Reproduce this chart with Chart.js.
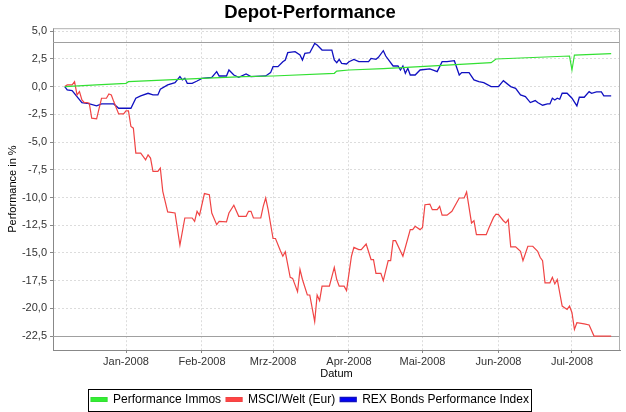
<!DOCTYPE html>
<html>
<head>
<meta charset="utf-8">
<script src="https://cdn.jsdelivr.net/npm/chart.js@4.4.0/dist/chart.umd.min.js"></script>
<style>
  html, body { margin: 0; padding: 0; background: #fff; }
  #wrap { width: 626px; height: 412px; }
</style>
</head>
<body>
<div id="wrap"><canvas id="chart" width="626" height="412"></canvas></div>
<script>
// x values are days since 1 Jan 2008
const monthStarts = [0, 31, 60, 91, 121, 152, 182];
const monthLabels = ["Jan-2008", "Feb-2008", "Mrz-2008", "Apr-2008", "Mai-2008", "Jun-2008", "Jul-2008"];
const markerValues = [4.0, -22.5];

const immosDays = [-25, -12, 0, 1, 31, 48, 60, 85, 86, 91, 105, 120, 149, 151, 181, 182, 183, 198];
const immosVals = [0, 0.15, 0.3, 0.45, 0.75, 0.9, 0.96, 1.2, 1.4, 1.5, 1.62, 1.8, 2.16, 2.49, 2.76, 1.5, 2.85, 2.97];

const msciDays = [-25, -24, -22, -21, -20, -19, -18, -17, -16, -15, -14, -12, -10, -8, -7, -6, -5, -3, -1, 0,
    1, 2, 3, 4, 6, 8, 9, 10, 11, 13, 14, 15, 17, 20, 22, 24, 27, 28, 29, 30,
    32, 34, 35, 37, 38, 41, 42, 44, 46, 49, 50, 51, 52, 55, 56, 57, 58, 60, 61, 63,
    64, 65, 67, 68, 70, 71, 72, 74, 75, 77, 78, 79, 80, 83, 85, 86, 87, 89, 90, 92,
    93, 95, 96, 98, 100, 101, 102, 104, 105, 107, 108, 109, 110, 113, 116, 117, 118, 120, 121, 122,
    124, 125, 127, 128, 129, 131, 133, 136, 138, 139, 141, 142, 143, 147, 148, 150, 151, 152, 154, 155,
    156, 157, 159, 161, 162, 164, 166, 168, 169, 170, 171, 173, 174, 175, 176, 178, 180, 181, 182, 183,
    184, 187, 189, 191, 198];
const msciVals = [0, 0.15, 0.15, 0.45, -0.75, -0.45, -1.2, -1.44, -1.44, -1.5, -2.85, -2.9, -1.05, -1.05, -0.66, -0.75, -1.35, -2.46, -2.46, -2.19,
    -2.19, -3.6, -3.75, -6.0, -6.0, -6.6, -6.15, -6.45, -7.65, -7.65, -7.35, -9.45, -11.3, -11.4, -14.3, -11.85, -11.85, -12.15, -11.25, -11.6,
    -9.65, -9.75, -11.4, -12.45, -12.15, -12.2, -11.4, -10.7, -11.7, -11.7, -11.25, -11.25, -11.85, -11.85, -10.8, -10.05, -11.1, -13.7, -13.7, -14.8,
    -15.3, -14.9, -17.2, -17.3, -18.5, -16.5, -17.4, -18.8, -18.8, -21.2, -18.8, -19.3, -18.0, -18.0, -16.3, -17.4, -18.0, -18.0, -18.4, -15.3,
    -14.5, -14.7, -14.7, -14.2, -15.6, -15.6, -16.85, -16.85, -17.5, -15.7, -15.7, -13.9, -13.9, -15.3, -12.9, -12.9, -12.6, -12.9, -12.7, -10.65,
    -10.6, -11.1, -11.1, -10.8, -11.6, -11.6, -11.25, -10.05, -10.05, -9.5, -12.3, -12.1, -13.35, -13.35, -12.8, -11.8, -11.5, -11.55, -12.1, -12.3,
    -12.0, -14.45, -14.45, -14.85, -15.7, -14.4, -14.4, -14.85, -15.4, -15.7, -17.7, -17.7, -17.2, -17.8, -17.4, -19.8, -20.1, -19.8, -20.4, -21.9,
    -21.3, -21.4, -21.5, -22.5, -22.5];

const rexDays = [-25, -24, -22, -18, -16, -12, -10, -5, -3, 2, 4, 6, 9, 11, 13, 14, 17, 20, 22, 23,
    24, 25, 27, 29, 31, 35, 37, 38, 41, 42, 44, 46, 49, 51, 57, 59, 60, 62, 64, 65,
    66, 69, 71, 72, 73, 75, 77, 78, 80, 84, 85, 86, 87, 88, 90, 91, 93, 95, 99, 100,
    102, 103, 105, 106, 109, 111, 112, 113, 114, 115, 116, 118, 120, 124, 127, 129, 131, 134, 136, 137,
    140, 142, 144, 146, 149, 152, 154, 157, 159, 161, 163, 165, 167, 168, 170, 172, 173, 174, 175, 176,
    177, 178, 180, 182, 184, 185, 187, 189, 190, 192, 194, 195, 198];
const rexVals = [0, -0.3, -0.36, -1.44, -1.5, -1.74, -1.56, -1.56, -1.95, -1.95, -1.05, -0.84, -0.6, -0.75, -0.75, -0.24, 0.15, 0.36, 0.9, 0.6,
    0.75, 0.3, 0.3, 0.51, 0.75, 0.84, 1.35, 0.96, 0.96, 1.5, 1.05, 0.84, 1.14, 0.9, 0.96, 1.26, 1.8, 1.8, 2.25, 2.4,
    3.06, 3.15, 2.85, 2.4, 3.0, 3.06, 3.9, 3.75, 3.3, 3.3, 2.4, 2.16, 2.46, 2.1, 2.04, 2.25, 2.46, 2.25, 2.25, 2.55,
    2.46, 2.64, 3.24, 2.76, 1.86, 1.86, 1.5, 1.86, 1.2, 1.65, 1.05, 1.05, 1.5, 1.6, 1.35, 2.25, 2.25, 2.34, 1.05, 1.26,
    1.26, 0.6, 0.45, 0.36, 0, 0, 0.54, 0, -0.15, -0.75, -0.9, -1.44, -1.26, -1.44, -1.68, -1.56, -1.56, -1.05, -1.2, -1.05,
    -1.14, -0.6, -0.6, -1.05, -1.74, -0.96, -0.96, -0.45, -0.6, -0.48, -0.48, -0.84, -0.84];

function toPoints(days, vals) {
    return days.map((d, i) => ({ x: d, y: vals[i] }));
}

// draws the marker lines and the plot outline
const plotExtras = {
    id: "plotExtras",
    beforeDatasetsDraw(chart) {
        const { ctx, chartArea: a, scales } = chart;
        ctx.save();
        ctx.strokeStyle = "#a0a0a0";
        ctx.lineWidth = 1;
        markerValues.forEach(v => {
            const y = Math.round(scales.y.getPixelForValue(v)) + 0.5;
            ctx.beginPath();
            ctx.moveTo(a.left, y);
            ctx.lineTo(a.right, y);
            ctx.stroke();
        });
        ctx.strokeStyle = "#b0b0b0";
        ctx.beginPath();
        ctx.moveTo(a.left, a.top + 0.5);
        ctx.lineTo(a.right - 0.5, a.top + 0.5);
        ctx.lineTo(a.right - 0.5, a.bottom);
        ctx.stroke();
        ctx.restore();
    },
    afterDraw(chart) {
        // border round the legend
        const boxes = chart.legend.legendHitBoxes;
        if (!boxes || !boxes.length) return;
        const ctx = chart.ctx;
        let l = Infinity, r = -Infinity, t = Infinity, b = -Infinity;
        boxes.forEach(h => {
            l = Math.min(l, h.left); r = Math.max(r, h.left + h.width);
            t = Math.min(t, h.top); b = Math.max(b, h.top + h.height);
        });
        const cy = (t + b) / 2;
        ctx.save();
        ctx.strokeStyle = "#000";
        ctx.lineWidth = 1;
        ctx.strokeRect(Math.round(l) - 2.5, Math.round(cy) - 10.5, Math.round(r - l) + 5, 22);
        ctx.restore();
    }
};

const font = "'Liberation Sans', Arial, sans-serif";

new Chart(document.getElementById("chart"), {
    type: "line",
    data: {
        datasets: [
            {
                label: "Performance Immos",
                data: toPoints(immosDays, immosVals),
                borderColor: "#33e033",
                backgroundColor: "#33ee33",
                borderWidth: 1.2
            },
            {
                label: "MSCI/Welt (Eur)",
                data: toPoints(msciDays, msciVals),
                borderColor: "#f04444",
                backgroundColor: "#ff4444",
                borderWidth: 1.2
            },
            {
                label: "REX Bonds Performance Index",
                data: toPoints(rexDays, rexVals),
                borderColor: "#1010c0",
                backgroundColor: "#0000ff",
                borderWidth: 1.3
            }
        ]
    },
    options: {
        responsive: false,
        animation: false,
        devicePixelRatio: 1,
        elements: { point: { radius: 0 }, line: { tension: 0 } },
        layout: { padding: { left: 0, right: 6, top: 0, bottom: -3.5 } },
        plugins: {
            title: {
                display: true,
                text: "Depot-Performance",
                color: "#000",
                font: { family: font, size: 18.5, weight: "bold" },
                padding: { top: 2, bottom: 4 }
            },
            legend: {
                position: "bottom",
                labels: {
                    color: "#000",
                    font: { family: font, size: 12 },
                    boxWidth: 16,
                    boxHeight: 4,
                    padding: 5
                }
            },
            tooltip: { enabled: false }
        },
        scales: {
            x: {
                type: "linear",
                min: -29.8,
                max: 201.6,
                afterBuildTicks(scale) {
                    scale.ticks = monthStarts.map(v => ({ value: v }));
                },
                afterFit(scale) { scale.height = 38.5; },
                ticks: {
                    autoSkip: false,
                    maxRotation: 0,
                    color: "#333",
                    font: { family: font, size: 11 },
                    padding: 2,
                    callback: (v, i) => monthLabels[i]
                },
                grid: { color: "#dcdcdc", tickLength: 3, tickColor: "#888" },
                border: { color: "#888", dash: [2, 2], display: true },
                title: {
                    display: true,
                    text: "Datum",
                    color: "#000",
                    font: { family: font, size: 11 },
                    padding: { top: 1, bottom: 8 }
                }
            },
            y: {
                min: -23.76,
                max: 5.27,
                afterFit(scale) { scale.width = 53; },
                ticks: {
                    stepSize: 2.5,
                    includeBounds: false,
                    color: "#333",
                    font: { family: font, size: 11 },
                    padding: 3,
                    callback: v => v.toFixed(1).replace(".", ",")
                },
                grid: { color: "#dcdcdc", tickLength: 3, tickColor: "#888" },
                border: { color: "#888", dash: [2, 2], display: true },
                title: {
                    display: true,
                    text: "Performance in %",
                    color: "#000",
                    font: { family: font, size: 11 },
                    padding: { top: 6, bottom: 2 }
                }
            }
        }
    },
    plugins: [plotExtras]
});
</script>
</body>
</html>
